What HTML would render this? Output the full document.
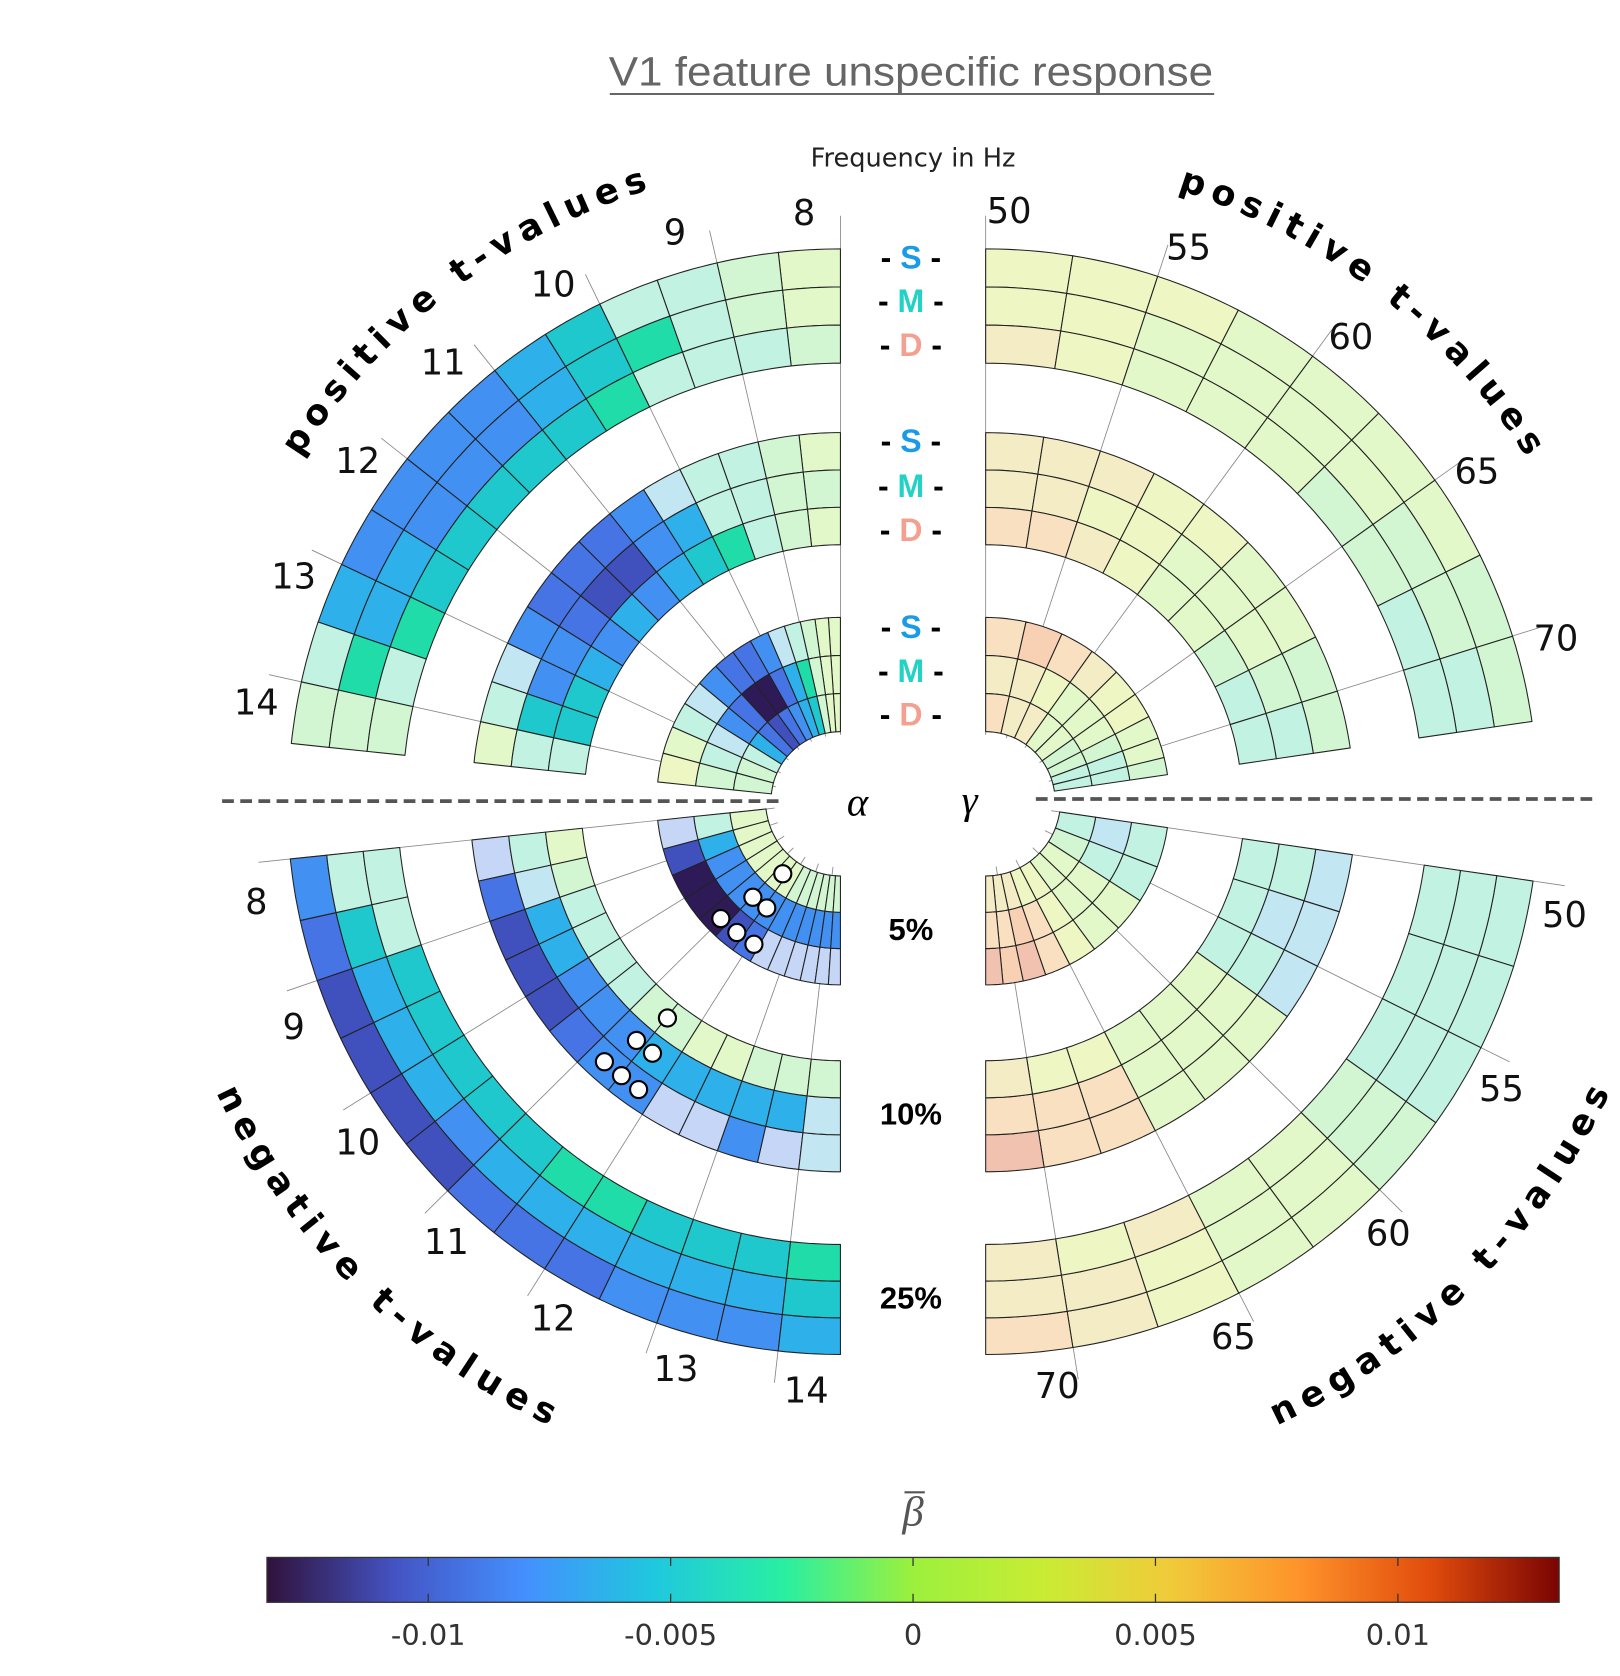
<!DOCTYPE html>
<html><head><meta charset="utf-8">
<style>
html,body{margin:0;padding:0;background:#fff;}
svg{display:block;}
</style></head>
<body>
<svg id="s" xmlns="http://www.w3.org/2000/svg" width="1620" height="1676" viewBox="0 0 1517 1569" preserveAspectRatio="none">
<defs>
<linearGradient id="turbo" x1="0" x2="1" y1="0" y2="0">
<stop offset="0" stop-color="#30123b"/>
<stop offset="0.1" stop-color="#4454c4"/>
<stop offset="0.2" stop-color="#4490fe"/>
<stop offset="0.3" stop-color="#1fc8de"/>
<stop offset="0.4" stop-color="#29efa2"/>
<stop offset="0.5" stop-color="#9cf03c"/>
<stop offset="0.6" stop-color="#c9ec34"/>
<stop offset="0.7" stop-color="#f1ca3a"/>
<stop offset="0.8" stop-color="#fe922a"/>
<stop offset="0.9" stop-color="#e14c0c"/>
<stop offset="1" stop-color="#7a0403"/>
</linearGradient>
<path id="pUL" d="M243.2,496.4 A600,600 0 0,1 682.8,159.1"/>
<path id="pUR" d="M1027.2,159.1 A600,600 0 0,1 1466.8,496.4"/>
<path id="pLL" d="M180.9,970.6 A645,645 0 0,0 566.4,1356.1"/>
<path id="pLR" d="M1143.6,1356.1 A645,645 0 0,0 1529.1,970.6"/>
</defs>
<g id="ticks"></g>
<g id="cells"></g>

<text x="853" y="80" text-anchor="middle" font-family="Liberation Sans, sans-serif" font-size="38" fill="#666" textLength="566" lengthAdjust="spacingAndGlyphs">V1 feature unspecific response</text>
<line x1="571" y1="88" x2="1137" y2="88" stroke="#666" stroke-width="1.8"/>
<text x="855" y="156" text-anchor="middle" font-family="DejaVu Sans, sans-serif" font-size="24" fill="#222">Frequency in Hz</text>

<g font-family="DejaVu Sans, sans-serif" font-weight="bold" font-size="33" fill="#000">
<text><textPath href="#pUL" startOffset="50%" text-anchor="middle" textLength="420" lengthAdjust="spacing">positive t-values</textPath></text>
<text><textPath href="#pUR" startOffset="50%" text-anchor="middle" textLength="420" lengthAdjust="spacing">positive t-values</textPath></text>
<text><textPath href="#pLL" startOffset="50%" text-anchor="middle" textLength="450" lengthAdjust="spacing">negative t-values</textPath></text>
<text><textPath href="#pLR" startOffset="50%" text-anchor="middle" textLength="450" lengthAdjust="spacing">negative t-values</textPath></text>
</g>

<g font-family="DejaVu Sans, sans-serif" font-size="33" fill="#111" text-anchor="middle" dominant-baseline="central">
<text x="753" y="200">8</text><text x="632" y="218">9</text><text x="518" y="267">10</text><text x="415" y="340">11</text><text x="335" y="432">12</text><text x="275" y="540">13</text><text x="240" y="658">14</text>
<text x="945" y="198">50</text><text x="1113" y="232">55</text><text x="1265" y="316">60</text><text x="1383" y="442">65</text><text x="1457" y="598">70</text>
<text x="240" y="845">8</text><text x="275" y="962">9</text><text x="335" y="1070">10</text><text x="418" y="1163">11</text><text x="518" y="1235">12</text><text x="633" y="1282">13</text><text x="755" y="1302">14</text>
<text x="1465" y="857">50</text><text x="1406" y="1020">55</text><text x="1300" y="1155">60</text><text x="1155" y="1252">65</text><text x="990" y="1298">70</text>
</g>

<g font-family="Liberation Sans, sans-serif" font-weight="bold" font-size="30" text-anchor="middle" dominant-baseline="central">
<text x="853" y="241">- <tspan fill="#1a9be8">S</tspan> -</text>
<text x="853" y="282">- <tspan fill="#22d3c5">M</tspan> -</text>
<text x="853" y="323">- <tspan fill="#f4a090">D</tspan> -</text>
<text x="853" y="413">- <tspan fill="#1a9be8">S</tspan> -</text>
<text x="853" y="455">- <tspan fill="#22d3c5">M</tspan> -</text>
<text x="853" y="496">- <tspan fill="#f4a090">D</tspan> -</text>
<text x="853" y="587">- <tspan fill="#1a9be8">S</tspan> -</text>
<text x="853" y="628">- <tspan fill="#22d3c5">M</tspan> -</text>
<text x="853" y="669">- <tspan fill="#f4a090">D</tspan> -</text>
</g>
<g font-family="Liberation Sans, sans-serif" font-weight="bold" font-size="29" text-anchor="middle" dominant-baseline="central" fill="#000">
<text x="853" y="870">5%</text>
<text x="853" y="1043">10%</text>
<text x="853" y="1215">25%</text>
</g>
<text x="803" y="751" text-anchor="middle" dominant-baseline="central" font-family="Liberation Serif, serif" font-style="italic" font-size="38">α</text>
<text x="908" y="749" text-anchor="middle" dominant-baseline="central" font-family="Liberation Serif, serif" font-style="italic" font-size="38">γ</text>

<line x1="208" y1="750" x2="735" y2="750" stroke="#555" stroke-width="3.5" stroke-dasharray="11 6"/>
<line x1="970" y1="748" x2="1495" y2="748" stroke="#555" stroke-width="3.5" stroke-dasharray="11 6"/>

<g fill="#fff" stroke="#000" stroke-width="2">
<circle cx="733" cy="818" r="8"/><circle cx="705" cy="840" r="8"/><circle cx="718" cy="850" r="8"/>
<circle cx="675" cy="860" r="8"/><circle cx="690" cy="873" r="8"/><circle cx="706" cy="884" r="8"/>
<circle cx="625" cy="953" r="8"/><circle cx="596" cy="974" r="8"/><circle cx="611" cy="986" r="8"/>
<circle cx="566" cy="994" r="8"/><circle cx="582" cy="1007" r="8"/><circle cx="598" cy="1020" r="8"/>
</g>

<text x="855" y="1428" text-anchor="middle" font-family="Liberation Serif, serif" font-style="italic" font-size="40" fill="#555">β</text>
<line x1="847" y1="1397" x2="866" y2="1397" stroke="#555" stroke-width="2"/>
<rect x="250" y="1458" width="1210" height="42" fill="url(#turbo)" stroke="#333" stroke-width="1.2"/>
<g stroke="#333" stroke-width="1.2">
<line x1="401" y1="1458" x2="401" y2="1466"/><line x1="401" y1="1500" x2="401" y2="1492"/>
<line x1="628" y1="1458" x2="628" y2="1466"/><line x1="628" y1="1500" x2="628" y2="1492"/>
<line x1="855" y1="1458" x2="855" y2="1466"/><line x1="855" y1="1500" x2="855" y2="1492"/>
<line x1="1082" y1="1458" x2="1082" y2="1466"/><line x1="1082" y1="1500" x2="1082" y2="1492"/>
<line x1="1309" y1="1458" x2="1309" y2="1466"/><line x1="1309" y1="1500" x2="1309" y2="1492"/>
</g>
<g font-family="DejaVu Sans, sans-serif" font-size="27" fill="#333" text-anchor="middle">
<text x="401" y="1540">-0.01</text>
<text x="628" y="1540">-0.005</text>
<text x="855" y="1540">0</text>
<text x="1082" y="1540">0.005</text>
<text x="1309" y="1540">0.01</text>
</g>
</svg>
<script>
(function(){
var NS="http://www.w3.org/2000/svg";
var C={y:'#eef6c4',a:'#e2f8c8',b:'#d2f6d2',c:'#c2f2e2',d:'#c2e6f2',l:'#c6d6f6',t:'#1ec8cc',g:'#20dca8',k:'#2eb0ea',B:'#4290f2',U:'#4674e4',P:'#4050bc',V:'#2e1a56',o:'#f8e0c0',p:'#f8d0b4',q:'#f4ecc4',r:'#f2c2b0'};
var UP=[[410,517],[240,345],[65,172]], LO=[[415,518],[243,347],[70,172]];
function g(u){return 0.55*u+0.45*u*u;}
var panels=[
 {q:'UL',cx:787,cy:750,T:84,n:13,rev:false,R:UP,nar:'v',
  d:[["abcctkBBBBkcb","abcgtkBBBkkgb","bcccgtttttgcb"],["abccdBUUUBdca","bbcckBPPUBBtc","abcgtkBkBkttc"],["aabcdBUUBdcay","aabgkUVVUBdcb","aabtkBUPUkcbb"]],
  ticks:[0,1,2,3,4,5,6].map(function(i){return i*12.92;})},
 {q:'UR',cx:923,cy:750,T:81.7,n:9,rev:false,R:UP,nar:'h',
  d:[["yyyaaaabb","yyaaaabbc","qyaaabbcc"],["qqqyyaabb","qqyyaaabc","ooqyaabcc"],["opoqyyaab","qqyaaabcc","oqqaabbcc"]],
  ticks:[0,1,2,3,4].map(function(i){return i*18.15;})},
 {q:'LL',cx:787,cy:750,T:84,n:13,rev:true,R:LO,nar:'v',
  d:[["BUPPPPUUUBBBk","ctkkkBkkkkkkt","cctttttggtttg"],["lUPPPUBBllBld","cdkkBBBkkkkkd","abccccbbaabbb"],["lPVVVPUllllll","ckBBBBBBBBBBB","aaaaaaabbbbbb"]],
  ticks:[0,1,2,3,4,5,6].map(function(i){return 84-i*12.92;})},
 {q:'LR',cx:923,cy:750,T:81.7,n:9,rev:true,R:LO,nar:'v',
  d:[["cccbaayqo","cccbaayqq","cccbaaqyq"],["dddaaaoor","cdcaaaooo","cccaaayyq"],["ccaayorpr","dcaayopoo","cbaayyqqq"]],
  ticks:[0,1,2,3,4].map(function(i){return 81.7-i*18.15;})}
];
function pt(p,th,r){var a=th*Math.PI/180,s=Math.sin(a),c=Math.cos(a);
 var dx=(p.q=='UL'||p.q=='LL')?-s:s, dy=(p.q=='UL'||p.q=='UR')?-c:c;
 return [p.cx+dx*r,p.cy+dy*r];}
var tg=document.getElementById('ticks'), cg=document.getElementById('cells');
panels.forEach(function(p){
 p.ticks.forEach(function(th){
  var a=pt(p,th,62),b=pt(p,th,548);
  var l=document.createElementNS(NS,'line');
  l.setAttribute('x1',a[0]);l.setAttribute('y1',a[1]);l.setAttribute('x2',b[0]);l.setAttribute('y2',b[1]);
  l.setAttribute('stroke','#888');l.setAttribute('stroke-width','0.8');tg.appendChild(l);
 });
 for(var i=0;i<3;i++){
  var E=[];
  for(var j=0;j<=p.n;j++){var u=j/p.n;
   if(i==2){E.push(p.nar=='v'?p.T*g(u):p.T*(1-g(1-u)));} else E.push(p.T*u);}
  var ri=p.R[i][0],ro=p.R[i][1],h=(ro-ri)/3;
  for(var r=0;r<3;r++){
   var r2=ro-r*h,r1=ro-(r+1)*h,str=p.d[i][r];
   for(var k=0;k<p.n;k++){
    var seg=p.rev?p.n-1-k:k,ta=E[seg],tb=E[seg+1],pts=[],m;
    for(m=0;m<=8;m++)pts.push(pt(p,ta+(tb-ta)*m/8,r2));
    for(m=8;m>=0;m--)pts.push(pt(p,ta+(tb-ta)*m/8,r1));
    var poly=document.createElementNS(NS,'polygon');
    poly.setAttribute('points',pts.map(function(q){return q[0].toFixed(1)+','+q[1].toFixed(1);}).join(' '));
    poly.setAttribute('fill',C[str.charAt(k)]||'#ddd');
    poly.setAttribute('stroke','#222');poly.setAttribute('stroke-width','1');
    poly.setAttribute('stroke-linejoin','round');
    cg.appendChild(poly);
   }
  }
 }
});
})();
</script>
</body></html>
